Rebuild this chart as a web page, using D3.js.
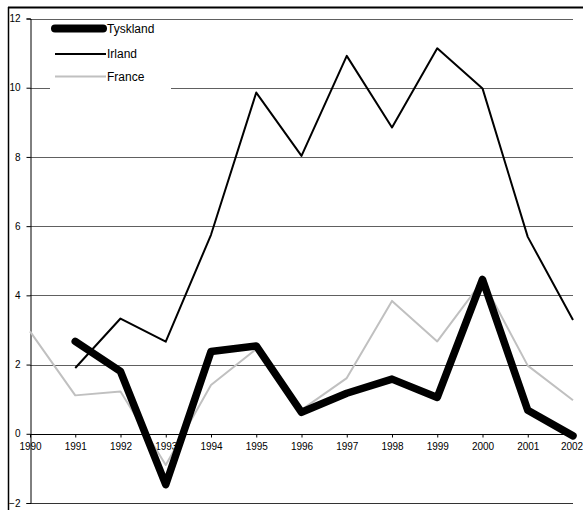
<!DOCTYPE html>
<html>
<head>
<meta charset="utf-8">
<script src="https://cdn.jsdelivr.net/npm/d3@7"></script>
<style>
  html, body { margin: 0; padding: 0; background: #fff; }
  svg { display: block; font-family: Arial, "Liberation Sans", sans-serif; }
</style>
</head>
<body>
<svg id="chart" width="583" height="510"></svg>
<script>
// Annual growth rates, 1990–2002
const years = [1990, 1991, 1992, 1993, 1994, 1995, 1996, 1997, 1998, 1999, 2000, 2001, 2002];
const tyskland = [null, 2.67, 1.80, -1.47, 2.38, 2.54, 0.62, 1.17, 1.58, 1.05, 4.46, 0.68, -0.06];
const irland   = [null, 1.90, 3.33, 2.66, 5.75, 9.86, 8.03, 10.92, 8.85, 11.14, 9.98, 5.69, 3.29];
const france   = [2.96, 1.11, 1.22, -0.90, 1.41, 2.45, 0.69, 1.61, 3.84, 2.67, 4.42, 1.97, 0.97];
const yTicks = [-2, 0, 2, 4, 6, 8, 10, 12];

const series = [
  { name: "Tyskland", values: tyskland, color: "#000", width: 7.5 },
  { name: "Irland",   values: irland,   color: "#000", width: 2 },
  { name: "France",   values: france,   color: "#c0c0c0", width: 2 }
];

const svg = d3.select("#chart");
const plotLeft = 30, plotRight = 573, plotTop = 18.5, plotBottom = 503;

// outer frame
svg.append("line").attr("x1", 8).attr("x2", 583).attr("y1", 7.5).attr("y2", 7.5)
  .attr("stroke", "#000").attr("stroke-width", 2);
svg.append("line").attr("x1", 8.5).attr("x2", 8.5).attr("y1", 7).attr("y2", 510)
  .attr("stroke", "#000").attr("stroke-width", 1.5);

const x = d3.scalePoint().domain(years).range([plotLeft, plotRight]);
const y = d3.scaleLinear().domain([-2, 12]).range([plotBottom, plotTop]);

// horizontal gridlines
svg.append("g").selectAll("line").data(yTicks.filter(t => t !== 0)).join("line")
  .attr("x1", plotLeft).attr("x2", plotRight)
  .attr("y1", d => Math.round(y(d)) + 0.5).attr("y2", d => Math.round(y(d)) + 0.5)
  .attr("stroke", d => d === -2 ? "#333" : "#606060").attr("stroke-width", 1);

// y axis
const yAxis = svg.append("g").attr("transform", `translate(${plotLeft + 0.5},0)`)
  .call(d3.axisLeft(y).tickValues(yTicks).tickSize(4).tickPadding(6).tickFormat(d3.format("d")));
yAxis.select(".domain").attr("stroke", "#000");
yAxis.selectAll(".tick line").attr("stroke", "#000");
yAxis.selectAll("text").attr("font-size", 10).attr("fill", "#000")
  .attr("font-family", "Arial, 'Liberation Sans', sans-serif");

// x axis along zero
const xAxis = svg.append("g").attr("transform", `translate(0,${Math.round(y(0)) + 0.5})`)
  .call(d3.axisBottom(x).tickSize(3).tickPadding(5));
xAxis.select(".domain").attr("stroke", "#000").attr("d", `M${plotLeft},0H${plotRight}`);
xAxis.selectAll(".tick line").attr("stroke", "#000");
xAxis.selectAll("text").attr("font-size", 10).attr("fill", "#000")
  .attr("font-family", "Arial, 'Liberation Sans', sans-serif");
// keep the last year label inside the frame
xAxis.selectAll(".tick text").filter(d => d === years[years.length - 1]).attr("dx", -1.5);

// series lines (France underneath, Tyskland on top)
const line = d3.line()
  .defined(d => d.v !== null)
  .x(d => x(d.year)).y(d => y(d.v));

[series[2], series[1], series[0]].forEach(s => {
  svg.append("path")
    .datum(years.map((yr, i) => ({ year: yr, v: s.values[i] })))
    .attr("d", line)
    .attr("fill", "none")
    .attr("stroke", s.color)
    .attr("stroke-width", s.width)
    .attr("stroke-linejoin", "round")
    .attr("stroke-linecap", s.width > 3 ? "round" : "butt");
});

// legend
const legend = svg.append("g");
legend.append("rect").attr("x", 50).attr("y", 20).attr("width", 121).attr("height", 70).attr("fill", "#fff");
const legendY = [28.5, 54, 76.5];
series.forEach((s, i) => {
  legend.append("line")
    .attr("x1", 55).attr("x2", s.width > 3 ? 103 : 106)
    .attr("y1", legendY[i]).attr("y2", legendY[i])
    .attr("stroke", s.color).attr("stroke-width", s.width > 3 ? 8 : 2)
    .attr("stroke-linecap", s.width > 3 ? "round" : "butt");
  legend.append("text")
    .attr("x", 107).attr("y", legendY[i]).attr("dy", "0.35em")
    .attr("font-size", 12).attr("fill", "#000")
    .text(s.name);
});
</script>
</body>
</html>
